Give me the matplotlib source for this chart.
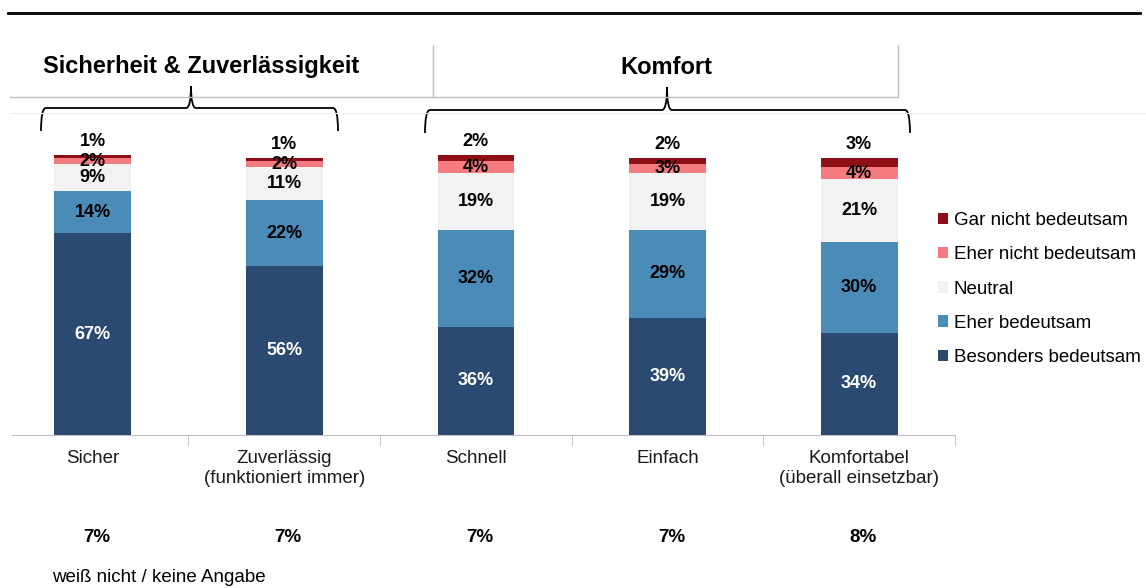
import matplotlib
matplotlib.use("Agg")
import matplotlib.pyplot as plt
import matplotlib.patches as mpatches
from matplotlib.path import Path
from matplotlib.transforms import blended_transform_factory
import numpy as np

plt.rcParams['font.family'] = ['Liberation Sans', 'DejaVu Sans']

# data
categories = ["Sicher", "Zuverlässig\n(funktioniert immer)", "Schnell", "Einfach",
              "Komfortabel\n(überall einsetzbar)"]
besonders = [67, 56, 36, 39, 34]
eher = [14, 22, 32, 29, 30]
neutral = [9, 11, 19, 19, 21]
eher_nicht = [2, 2, 4, 3, 4]
gar_nicht = [1, 1, 2, 2, 3]
keine_angabe = [7, 7, 7, 7, 8]
series_names = ["Besonders bedeutsam", "Eher bedeutsam", "Neutral",
                "Eher nicht bedeutsam", "Gar nicht bedeutsam"]
groups = ["Sicherheit & Zuverlässigkeit", "Komfort"]

colors = ["#2B4A71", "#4B8BB8", "#F2F2F2", "#F47C80", "#8E1016"]
label_colors = ["white", "black", "black", "black", "black"]

W, H = 1146, 588
fig = plt.figure(figsize=(W / 100, H / 100), dpi=100)

# overlay for header decorations in pixel coordinates
ov = fig.add_axes([0, 0, 1, 1])
ov.set_xlim(0, W)
ov.set_ylim(H, 0)
ov.axis('off')

# main bar axes (pixel placement: x 12..955, y 113..435)
ax = fig.add_axes([12 / W, 1 - 435 / H, 943 / W, 322 / H])
ax.patch.set_visible(False)
x = np.arange(len(categories))
stack = [besonders, eher, neutral, eher_nicht, gar_nicht]
bottom = np.zeros(len(categories))
for i, vals in enumerate(stack):
    vals = np.array(vals, dtype=float)
    ax.bar(x, vals, 0.40, bottom=bottom, color=colors[i], label=series_names[i])
    for j in range(len(x)):
        if i == 4:
            yy = bottom[j] + vals[j] + 4.4
        else:
            yy = bottom[j] + vals[j] / 2
        ax.text(x[j], yy, f"{int(vals[j])}%", ha='center', va='center',
                fontsize=13, fontweight='bold', color=label_colors[i])
    bottom += vals

ax.set_xlim(-0.42, 4.5)
ax.set_ylim(0, 107)
for s in ['top', 'right', 'left']:
    ax.spines[s].set_visible(False)
ax.spines['bottom'].set_color('#BFBFBF')
ax.set_yticks([])
ax.set_xticks(x)
ax.set_xticklabels(categories, fontsize=13.5, color='#1A1A1A', linespacing=1.2)
ax.tick_params(axis='x', which='major', length=0, pad=11)
ax.set_xticks(np.arange(0.5, 5, 1.0), minor=True)
ax.tick_params(axis='x', which='minor', length=8, color='#BFBFBF', direction='out')

# "weiß nicht / keine Angabe" row
tr = blended_transform_factory(ax.transData, fig.transFigure)
for j, v in enumerate(keine_angabe):
    ax.text(x[j] + 0.02, 1 - 537 / H, f"{v}%", transform=tr, ha='center', va='center',
            fontsize=13.5, fontweight='bold')
fig.text(52 / W, 1 - 578 / H, "weiß nicht / keine Angabe", ha='left', va='center', fontsize=13.5)

# legend (top entry = Gar nicht bedeutsam)
handles, labels = ax.get_legend_handles_labels()
fig.legend(handles[::-1], labels[::-1], loc='upper left',
           bbox_to_anchor=(938 / W, 1 - 212 / H), frameon=False, fontsize=13.5,
           handlelength=0.55, handleheight=0.55, handletextpad=0.3, labelspacing=0.92,
           borderaxespad=0, borderpad=0)

ov.plot([8, 1140], [13, 13], color='black', lw=2)
ov.plot([10, W], [113, 113], color='#EEEEEE', lw=0.8)
ov.plot([10, 898], [97, 97], color='#BFBFBF', lw=1)
ov.plot([433, 433], [45, 97], color='#BFBFBF', lw=1)
ov.plot([898, 898], [45, 97], color='#BFBFBF', lw=1)

ov.text(201, 67, groups[0], ha='center', va='center', fontsize=17, fontweight='bold')
ov.text(666, 67, groups[1], ha='center', va='center', fontsize=17, fontweight='bold')


def brace(x0, x1, xm, ytop, yend, ytip, r=5):
    verts = [(x0, yend), (x0, ytop), (x0 + r, ytop),
             (xm - r, ytop), (xm, ytop), (xm, ytip),
             (xm, ytop), (xm + r, ytop),
             (x1 - r, ytop), (x1, ytop), (x1, yend)]
    codes = [Path.MOVETO, Path.CURVE3, Path.CURVE3,
             Path.LINETO, Path.CURVE3, Path.CURVE3,
             Path.CURVE3, Path.CURVE3,
             Path.LINETO, Path.CURVE3, Path.CURVE3]
    ov.add_patch(mpatches.PathPatch(Path(verts, codes), fill=False, lw=1.3, color='black'))


brace(41, 338, 191, 108, 131, 86)
brace(425, 910, 667, 110, 133, 87)

fig.savefig("out.png", dpi=100)
